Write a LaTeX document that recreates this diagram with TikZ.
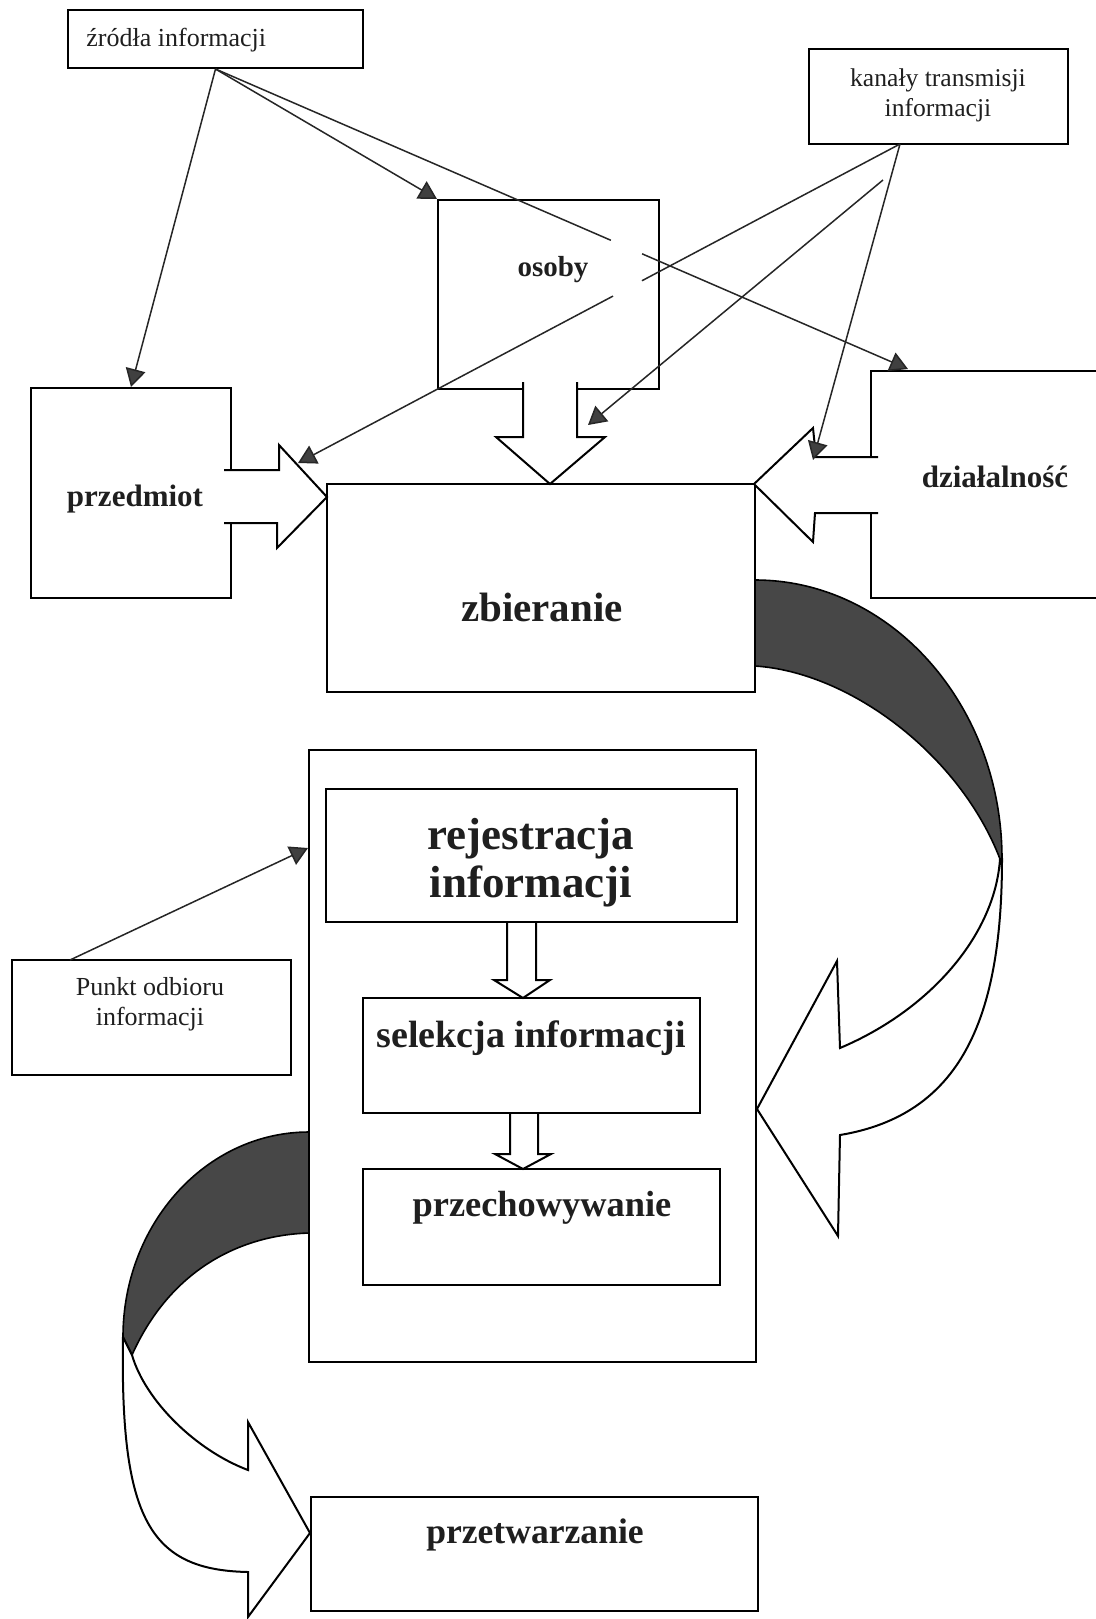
\documentclass[tikz,border=0pt]{standalone}
\usepackage{fontspec}
\setmainfont{Liberation Serif}
\usetikzlibrary{arrows.meta,calc}
\begin{document}
\begin{tikzpicture}[x=0.5pt,y=-0.5pt,
  box/.style={draw=black, line width=1pt, inner sep=0pt},
  boxline/.style={draw=black, line width=1pt},
  sz/.style 2 args={minimum width=#1*0.5pt, minimum height=#2*0.5pt},
  lbl/.style={inner sep=0pt, text=black!88},
  conn/.style={line width=0.75pt, draw=black!85, -{Triangle[length=9pt,width=10pt,fill=black!75]}},
  plainline/.style={line width=0.75pt, draw=black!85},
  blockarrow/.style={fill=white, draw=black, line width=1pt, line join=miter},
  darkband/.style={fill=black!72, draw=black, line width=0.8pt},
  ]
\path[use as bounding box, fill=white] (0,0) rectangle (1096,1619);

% hollow arrows inside the container (drawn first, boxes on top)
\path[blockarrow] (507,922) -- (507,980) -- (494,980) -- (523,998) -- (550,980) -- (536,980) -- (536,922);
\path[blockarrow] (510,1113) -- (510,1154) -- (495,1154) -- (523,1169) -- (551,1154) -- (538,1154) -- (538,1113);

% boxes
\node[box, sz={295}{58}] (zr) at (215.5,39) {};
\node[box, sz={259}{95}] (ka) at (938.5,96.5) {};
\node[box, sz={221}{189}] (os) at (548.5,294.5) {};
\node[box, sz={200}{210}] (pr) at (131,493) {};
\node[box, sz={428}{208}] (zb) at (541,588) {};
\node[inner sep=0pt, sz={225}{227}] (dz) at (983.5,484.5) {};
\draw[boxline] (dz.north east) -- (dz.north west) -- (dz.south west) -- (dz.south east);
\node[box, sz={447}{612}] (co) at (532.5,1056) {};
\node[box, sz={411}{133}] (rj) at (531.5,855.5) {};
\node[box, sz={337}{115}] (se) at (531.5,1055.5) {};
\node[box, sz={357}{116}] (pc) at (541.5,1227) {};
\node[box, sz={279}{115}] (pu) at (151.5,1017.5) {};
\node[box, sz={447}{114}] (pt) at (534.5,1554) {};

% block arrows into "zbieranie"
\path[blockarrow] (523,382) -- (523,437) -- (496,437) -- (550,484) -- (605,437) -- (577,437) -- (577,382);
\path[blockarrow] (224,470) -- (279,470) -- (279,445) -- (327,497) -- (277,548) -- (277,523) -- (224,523);
\path[blockarrow] (878,457) -- (816,457) -- (813,428) -- (754,484) -- (813,542) -- (815,513) -- (878,513);

% curved arrow: zbieranie -> container
\path[darkband] (755,580) .. controls (891,580) and (1002,705) .. (1002,859) -- (1000,859) .. controls (960,755) and (850,672) .. (755,666) -- cycle;
\path[blockarrow] (1002,859) .. controls (1002,1020) and (960,1115) .. (840,1135) -- (838,1236) -- (757,1109) -- (837,961) -- (840,1048) .. controls (930,1010) and (995,935) .. (1000,859) -- cycle;

% curved arrow: container -> przetwarzanie
\path[darkband] (309,1132) .. controls (206,1132) and (123,1224) .. (123,1337) -- (132,1355) .. controls (170,1270) and (240,1235) .. (309,1233) -- cycle;
\path[blockarrow] (123,1337) .. controls (120,1520) and (150,1570) .. (248,1572) -- (248,1617) -- (310,1533) -- (248,1422) -- (248,1470) .. controls (195,1450) and (145,1400) .. (132,1355) -- cycle;

% connector end points
\coordinate (dzt) at (908,369);
\coordinate (ka1) at (900,144);
\coordinate (ka2) at (883,180);
\coordinate (prt) at (298,463);
\coordinate (ost) at (588,425);
\coordinate (dzl) at (813,460);
\coordinate (pu1) at (70,960);
\coordinate (coin) at (308,848);

% connectors
\draw[conn] (zr.south) -- (pr.north);
\draw[conn] (zr.south) -- (os.north west);
\draw[plainline] (zr.south) -- ($(zr.south)!0.571!(dzt)$);
\draw[conn] ($(zr.south)!0.616!(dzt)$) -- (dzt);
\draw[plainline] (ka1) -- ($(ka1)!0.4286!(prt)$);
\draw[conn] ($(ka1)!0.4767!(prt)$) -- (prt);
\draw[conn] (ka2) -- (ost);
\draw[conn] (ka1) -- (dzl);
\draw[conn] (pu1) -- (coin);

% texts
\node[lbl, anchor=base west, font={\fontsize{13pt}{15pt}\selectfont}] (tzr) at (86,46) {źródła informacji};
\node[lbl, align=center, font={\fontsize{12.8pt}{15pt}\selectfont}] (tka) at (938,95) {kanały transmisji\\informacji};
\node[lbl, anchor=base, font={\fontsize{14.5pt}{17pt}\selectfont\bfseries}] (tos) at (553,276) {osoby};
\node[lbl, anchor=base, font={\fontsize{15.5pt}{18pt}\selectfont\bfseries}] (tpr) at (135,506) {przedmiot};
\node[lbl, anchor=base, font={\fontsize{15.5pt}{18pt}\selectfont\bfseries}] (tdz) at (995,487) {działalność};
\node[lbl, anchor=base, font={\fontsize{20.5pt}{24pt}\selectfont\bfseries}] (tzb) at (542,621) {zbieranie};
\node[lbl, align=center, font={\fontsize{22.5pt}{24pt}\selectfont\bfseries}] (trj) at (531,863) {rejestracja\\informacji};
\node[lbl, anchor=base, font={\fontsize{19pt}{22pt}\selectfont\bfseries}] (tse) at (531,1047) {selekcja informacji};
\node[lbl, anchor=base, font={\fontsize{18.2pt}{21pt}\selectfont\bfseries}] (tpc) at (542,1216) {przechowywanie};
\node[lbl, align=center, font={\fontsize{13pt}{15pt}\selectfont}] (tpu) at (150,1004) {Punkt odbioru\\informacji};
\node[lbl, anchor=base, font={\fontsize{17.8pt}{21pt}\selectfont\bfseries}] (tpt) at (535,1543) {przetwarzanie};
\end{tikzpicture}
\end{document}
